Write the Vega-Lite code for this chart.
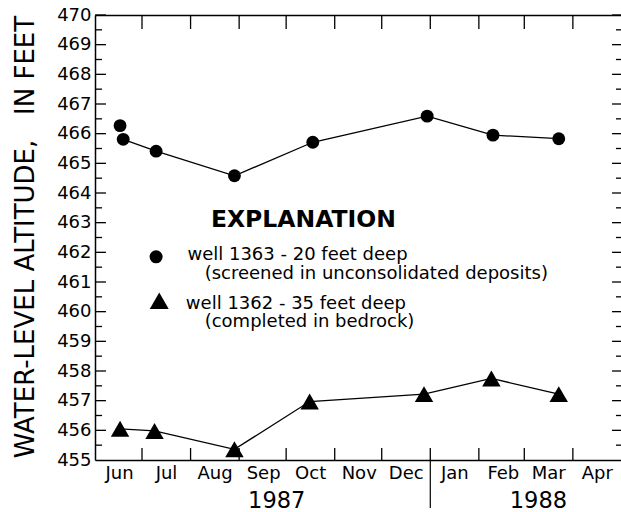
{
  "$schema": "https://vega.github.io/schema/vega-lite/v6.json",
  "width": 528,
  "height": 445,
  "autosize": "none",
  "padding": {"left": 95, "top": 15, "right": 0, "bottom": 52},
  "background": "white",
  "config": {
    "font": "DejaVu Sans",
    "view": {"stroke": null, "fill": null},
    "text": {"font": "DejaVu Sans", "color": "black"},
    "axis": {"labelFont": "DejaVu Sans", "titleFont": "DejaVu Sans", "domainColor": "black", "labelColor": "black", "titleColor": "black", "grid": false, "domainWidth": 1.5}
  },
  "datasets": {
    "levels": [
      {"well": "1363", "date": "1987-06-17", "level": 466.27, "connected": false},
      {"well": "1363", "date": "1987-06-19", "level": 465.81, "connected": true},
      {"well": "1363", "date": "1987-07-10", "level": 465.41, "connected": true},
      {"well": "1363", "date": "1987-08-29", "level": 464.58, "connected": true},
      {"well": "1363", "date": "1987-10-18", "level": 465.71, "connected": true},
      {"well": "1363", "date": "1987-12-30", "level": 466.59, "connected": true},
      {"well": "1363", "date": "1988-02-10", "level": 465.95, "connected": true},
      {"well": "1363", "date": "1988-03-23", "level": 465.83, "connected": true},
      {"well": "1362", "date": "1987-06-17", "level": 456.05, "connected": true},
      {"well": "1362", "date": "1987-07-09", "level": 455.98, "connected": true},
      {"well": "1362", "date": "1987-08-29", "level": 455.36, "connected": true},
      {"well": "1362", "date": "1987-10-16", "level": 456.97, "connected": true},
      {"well": "1362", "date": "1987-12-28", "level": 457.22, "connected": true},
      {"well": "1362", "date": "1988-02-09", "level": 457.75, "connected": true},
      {"well": "1362", "date": "1988-03-23", "level": 457.22, "connected": true}
    ],
    "monthTicks": [
      {"date": "1987-07-01"}, {"date": "1987-08-01"}, {"date": "1987-09-01"}, {"date": "1987-10-01"}, {"date": "1987-11-01"},
      {"date": "1987-12-01"}, {"date": "1988-01-01"}, {"date": "1988-02-01"}, {"date": "1988-03-01"}, {"date": "1988-04-01"}
    ],
    "levelTicks": [
      {"value": 455.5}, {"value": 456}, {"value": 456.5}, {"value": 457}, {"value": 457.5}, {"value": 458}, {"value": 458.5}, {"value": 459}, {"value": 459.5}, {"value": 460},
      {"value": 460.5}, {"value": 461}, {"value": 461.5}, {"value": 462}, {"value": 462.5}, {"value": 463}, {"value": 463.5}, {"value": 464}, {"value": 464.5}, {"value": 465},
      {"value": 465.5}, {"value": 466}, {"value": 466.5}, {"value": 467}, {"value": 467.5}, {"value": 468}, {"value": 468.5}, {"value": 469}, {"value": 469.5}, {"value": 470}
    ]
  },
  "resolve": {"axis": {"x": "independent", "y": "independent"}},
  "layer": [
    {
      "data": {"name": "levels"},
      "transform": [{"filter": "datum.connected"}],
      "mark": {"type": "line", "color": "black", "strokeWidth": 1.3},
      "encoding": {
        "x": {
          "field": "date", "type": "temporal",
          "scale": {"type": "utc", "domain": [{"year": 1987, "month": 6, "date": 1, "utc": true}, {"year": 1988, "month": 5, "date": 3, "utc": true}]},
          "axis": {
            "orient": "bottom", "title": null, "ticks": false,
            "values": [
              {"year": 1987, "month": 6, "date": 1, "utc": true},
              {"year": 1987, "month": 7, "date": 1, "utc": true},
              {"year": 1987, "month": 8, "date": 1, "utc": true},
              {"year": 1987, "month": 9, "date": 1, "utc": true},
              {"year": 1987, "month": 10, "date": 1, "utc": true},
              {"year": 1987, "month": 11, "date": 1, "utc": true},
              {"year": 1987, "month": 12, "date": 1, "utc": true},
              {"year": 1988, "month": 1, "date": 1, "utc": true},
              {"year": 1988, "month": 2, "date": 1, "utc": true},
              {"year": 1988, "month": 3, "date": 1, "utc": true},
              {"year": 1988, "month": 4, "date": 1, "utc": true}
            ],
            "labelExpr": "utcFormat(datum.value, '%b')",
            "labelOffset": 24,
            "labelAlign": "center",
            "labelFontSize": 18,
            "labelPadding": 4,
            "labelFlush": false,
            "labelOverlap": false
          }
        },
        "y": {
          "field": "level", "type": "quantitative",
          "scale": {"domain": [455, 470], "nice": false, "zero": false},
          "axis": {
            "orient": "left", "ticks": false,
            "title": "WATER-LEVEL ALTITUDE,\u00a0\u00a0\u00a0IN FEET",
            "titleFontSize": 26, "titleFontWeight": "normal",
            "titleAngle": -90, "titleX": -69.5, "titleY": 221.5, "titleAlign": "center", "titleBaseline": "middle",
            "values": [455, 456, 457, 458, 459, 460, 461, 462, 463, 464, 465, 466, 467, 468, 469, 470],
            "labelExpr": "format(datum.value, 'd')",
            "labelFontSize": 18,
            "labelPadding": 4,
            "labelFlush": false,
            "labelOverlap": false
          }
        },
        "detail": {"field": "well"}
      }
    },
    {
      "data": {"name": "levels"},
      "transform": [{"filter": "datum.well === '1363'"}],
      "mark": {"type": "point", "shape": "circle", "filled": true, "color": "black", "opacity": 1, "size": 165},
      "encoding": {
        "x": {"field": "date", "type": "temporal", "axis": {"orient": "top", "title": null, "labels": false, "ticks": false, "domain": true}},
        "y": {"field": "level", "type": "quantitative", "axis": null}
      }
    },
    {
      "data": {"name": "levels"},
      "transform": [{"filter": "datum.well === '1362'"}],
      "mark": {"type": "point", "shape": "triangle-up", "filled": true, "color": "black", "opacity": 1, "size": 340},
      "encoding": {
        "x": {"field": "date", "type": "temporal", "axis": null},
        "y": {"field": "level", "type": "quantitative", "axis": null}
      }
    },
    {
      "data": {"name": "monthTicks"},
      "mark": {"type": "rule", "color": "black", "strokeWidth": 1.3},
      "encoding": {
        "x": {"field": "date", "type": "temporal", "axis": null},
        "y": {"datum": 455, "type": "quantitative", "axis": null},
        "y2": {"datum": 455.404}
      }
    },
    {
      "data": {"name": "monthTicks"},
      "mark": {"type": "rule", "color": "black", "strokeWidth": 1.3},
      "encoding": {
        "x": {"field": "date", "type": "temporal", "axis": null},
        "y": {"datum": 470, "type": "quantitative", "axis": null},
        "y2": {"datum": 469.528}
      }
    },
    {
      "data": {"name": "levelTicks"},
      "transform": [{"filter": "datum.value % 1 === 0"}],
      "mark": {"type": "rule", "color": "black", "strokeWidth": 1.3},
      "encoding": {
        "x": {"datum": {"year": 1987, "month": 6, "date": 1, "utc": true}, "type": "temporal", "axis": null},
        "x2": {"datum": {"year": 1987, "month": 6, "date": 8, "utc": true}},
        "y": {"field": "value", "type": "quantitative", "axis": null}
      }
    },
    {
      "data": {"name": "levelTicks"},
      "transform": [{"filter": "datum.value % 1 !== 0"}],
      "mark": {"type": "rule", "color": "black", "strokeWidth": 1.3},
      "encoding": {
        "x": {"datum": {"year": 1987, "month": 6, "date": 1, "utc": true}, "type": "temporal", "axis": null},
        "x2": {"datum": {"year": 1987, "month": 6, "date": 5, "hours": 12, "utc": true}},
        "y": {"field": "value", "type": "quantitative", "axis": null}
      }
    },
    {
      "data": {"name": "levelTicks"},
      "transform": [{"filter": "datum.value % 1 === 0"}],
      "mark": {"type": "rule", "color": "black", "strokeWidth": 1.3},
      "encoding": {
        "x": {"datum": {"year": 1988, "month": 5, "date": 3, "utc": true}, "type": "temporal", "axis": null},
        "x2": {"datum": {"year": 1988, "month": 4, "date": 26, "utc": true}},
        "y": {"field": "value", "type": "quantitative", "axis": null}
      }
    },
    {
      "data": {"name": "levelTicks"},
      "transform": [{"filter": "datum.value % 1 !== 0"}],
      "mark": {"type": "rule", "color": "black", "strokeWidth": 1.3},
      "encoding": {
        "x": {"datum": {"year": 1988, "month": 5, "date": 3, "utc": true}, "type": "temporal", "axis": null},
        "x2": {"datum": {"year": 1988, "month": 4, "date": 28, "hours": 12, "utc": true}},
        "y": {"field": "value", "type": "quantitative", "axis": null}
      }
    },
    {
      "data": {"values": [{}]},
      "mark": {"type": "rule", "color": "black", "strokeWidth": 1.2, "clip": false},
      "encoding": {
        "x": {"datum": {"year": 1988, "month": 1, "date": 1, "utc": true}, "type": "temporal", "axis": null},
        "y": {"datum": 455, "type": "quantitative", "axis": null},
        "y2": {"datum": 453.38}
      }
    },
    {
      "data": {"values": [{}]},
      "mark": {"type": "text", "fontSize": 22.5, "align": "center", "baseline": "alphabetic"},
      "encoding": {
        "x": {"datum": {"year": 1987, "month": 9, "date": 25, "utc": true}, "type": "temporal", "axis": null},
        "y": {"datum": 453.38, "type": "quantitative", "axis": null},
        "text": {"value": "1987"}
      }
    },
    {
      "data": {"values": [{}]},
      "mark": {"type": "text", "fontSize": 22.5, "align": "center", "baseline": "alphabetic"},
      "encoding": {
        "x": {"datum": {"year": 1988, "month": 3, "date": 10, "utc": true}, "type": "temporal", "axis": null},
        "y": {"datum": 453.38, "type": "quantitative", "axis": null},
        "text": {"value": "1988"}
      }
    },
    {
      "data": {"values": [{}]},
      "mark": {"type": "text", "fontSize": 23.5, "fontWeight": "bold", "align": "left", "baseline": "alphabetic"},
      "encoding": {
        "x": {"datum": {"year": 1987, "month": 8, "date": 14, "utc": true}, "type": "temporal", "axis": null},
        "y": {"datum": 462.84, "type": "quantitative", "axis": null},
        "text": {"value": "EXPLANATION"}
      }
    },
    {
      "data": {"values": [{}]},
      "mark": {"type": "point", "shape": "circle", "filled": true, "color": "black", "opacity": 1, "size": 170},
      "encoding": {
        "x": {"datum": {"year": 1987, "month": 7, "date": 10, "utc": true}, "type": "temporal", "axis": null},
        "y": {"datum": 461.85, "type": "quantitative", "axis": null}
      }
    },
    {
      "data": {"values": [{}]},
      "mark": {"type": "point", "shape": "triangle-up", "filled": true, "color": "black", "opacity": 1, "size": 360},
      "encoding": {
        "x": {"datum": {"year": 1987, "month": 7, "date": 12, "utc": true}, "type": "temporal", "axis": null},
        "y": {"datum": 460.37, "type": "quantitative", "axis": null}
      }
    },
    {
      "data": {"values": [{}]},
      "mark": {"type": "text", "fontSize": 18, "align": "left", "baseline": "alphabetic"},
      "encoding": {
        "x": {"datum": {"year": 1987, "month": 7, "date": 30, "utc": true}, "type": "temporal", "axis": null},
        "y": {"datum": 461.74, "type": "quantitative", "axis": null},
        "text": {"value": "well 1363 - 20 feet deep"}
      }
    },
    {
      "data": {"values": [{}]},
      "mark": {"type": "text", "fontSize": 18, "align": "left", "baseline": "alphabetic"},
      "encoding": {
        "x": {"datum": {"year": 1987, "month": 8, "date": 10, "utc": true}, "type": "temporal", "axis": null},
        "y": {"datum": 461.09, "type": "quantitative", "axis": null},
        "text": {"value": "(screened in unconsolidated deposits)"}
      }
    },
    {
      "data": {"values": [{}]},
      "mark": {"type": "text", "fontSize": 18, "align": "left", "baseline": "alphabetic"},
      "encoding": {
        "x": {"datum": {"year": 1987, "month": 7, "date": 29, "utc": true}, "type": "temporal", "axis": null},
        "y": {"datum": 460.09, "type": "quantitative", "axis": null},
        "text": {"value": "well 1362 - 35 feet deep"}
      }
    },
    {
      "data": {"values": [{}]},
      "mark": {"type": "text", "fontSize": 18, "align": "left", "baseline": "alphabetic"},
      "encoding": {
        "x": {"datum": {"year": 1987, "month": 8, "date": 10, "utc": true}, "type": "temporal", "axis": null},
        "y": {"datum": 459.5, "type": "quantitative", "axis": null},
        "text": {"value": "(completed in bedrock)"}
      }
    }
  ]
}
